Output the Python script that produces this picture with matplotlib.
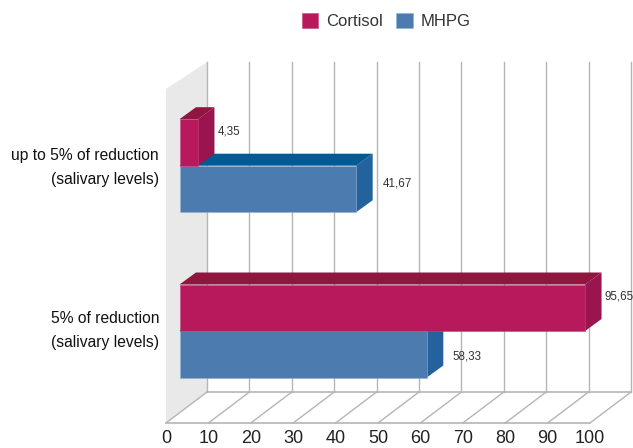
import matplotlib
matplotlib.use("Agg")
import matplotlib.pyplot as plt
from matplotlib.patches import Polygon, Patch

plt.rcParams['font.family'] = ['Liberation Sans', 'DejaVu Sans']

categories = ["5% of reduction\n(salivary levels)", "up to 5% of reduction\n(salivary levels)"]
cortisol = [95.65, 4.35]
mhpg = [58.33, 41.67]
cortisol_labels = ["95,65", "4,35"]
mhpg_labels = ["58,33", "41,67"]
ticks = list(range(0, 101, 10))

W, H = 633, 448
fig = plt.figure(figsize=(W / 100, H / 100), dpi=100)
L, B = 166, 423
ax = fig.add_axes([L / W, (H - B) / H, (W - L) / W, B / H])

PXX, PXY = 4.24, 165.3           # pixels per data unit
X0PX, Y0PX = 179.5, 331          # where value 0 / category 0 sit
ax.set_xlim((L - X0PX) / PXX, (W - X0PX) / PXX)
ax.set_ylim((Y0PX - B) / PXY, Y0PX / PXY)
for s in ax.spines.values():
    s.set_visible(False)
ax.patch.set_visible(False)

front = (L - X0PX) / PXX         # x shift of the chart's front plane
back = (207 - X0PX) / PXX        # x shift of the back wall
y_front, y_back = (Y0PX - 423) / PXY, (Y0PX - 392) / PXY
y_wall_f, y_wall_b = (Y0PX - 89) / PXY, (Y0PX - 62) / PXY
GRID = '#b5b5b5'

ax.add_patch(Polygon([(front, y_front), (back, y_back), (back, y_wall_b), (front, y_wall_f)],
                     closed=True, fc='#e9e9e9', ec='none', zorder=1))
for t in ticks:
    ax.plot([t + back, t + back], [y_back, y_wall_b], color=GRID, lw=1, zorder=2, clip_on=False)
    ax.plot([t + front, t + back], [y_front, y_back], color=GRID, lw=1, zorder=2, clip_on=False)
ax.plot([front, 100 + front], [y_front, y_front], color=GRID, lw=1.2, zorder=2, clip_on=False)
ax.plot([back, 100 + back], [y_back, y_back], color=GRID, lw=1.2, zorder=2, clip_on=False)

BH = 46.5 / PXY
DX, DY = 16.5 / PXX, 12 / PXY


def bar3d(y0, y1, v, front_c, side_c, top_c, edge, z):
    ax.barh((y0 + y1) / 2, v, height=abs(y1 - y0), color=front_c, edgecolor=edge, linewidth=0.4, zorder=z + 0.2)
    hi, lo = max(y0, y1), min(y0, y1)
    ax.add_patch(Polygon([(v, lo), (v + DX, lo + DY), (v + DX, hi + DY), (v, hi)],
                         closed=True, fc=side_c, ec='none', zorder=z))
    ax.add_patch(Polygon([(0, hi), (DX, hi + DY), (v + DX, hi + DY), (v, hi)],
                         closed=True, fc=top_c, ec='none', zorder=z))


for i in range(2):
    bar3d(i - BH, i, mhpg[i], '#4c7bb0', '#23629c', '#005a94', '#8fb0d4', 3)
    bar3d(i, i + BH, cortisol[i], '#b7195c', '#9a144f', '#8f163f', '#c4467c', 4)

cort_off = [(19, 11), (20, 11)]
mhpg_off = [(26, -2), (27, 5)]
for i in range(2):
    ax.annotate(cortisol_labels[i], (cortisol[i], i + BH / 2), xytext=(cort_off[i][0] * .72, cort_off[i][1] * .72),
                textcoords='offset points', fontsize=8.4, color='#333333', va='center', ha='left',
                zorder=6, annotation_clip=False)
    ax.annotate(mhpg_labels[i], (mhpg[i], i - BH / 2), xytext=(mhpg_off[i][0] * .72, mhpg_off[i][1] * .72),
                textcoords='offset points', fontsize=8.4, color='#333333', va='center', ha='left',
                zorder=6, annotation_clip=False)

ax.set_xticks([t + front for t in ticks], [str(t) for t in ticks], fontsize=13, color='#222222')
ax.set_yticks([0.042, 1.027], categories, fontsize=11.25, color='#111111', ma='right', linespacing=1.8)
ax.tick_params(axis='both', length=0)
ax.tick_params(axis='x', pad=5)
ax.tick_params(axis='y', pad=5)

fig.legend(handles=[Patch(fc='#b7195c', ec='#c4467c', lw=0.4, label='Cortisol'),
                    Patch(fc='#4c7bb0', ec='#8fb0d4', lw=0.4, label='MHPG')],
           ncols=2, frameon=False, fontsize=12, labelcolor='#333333',
           handlelength=1.0, handleheight=1.0, handletextpad=0.45, columnspacing=0.8,
           loc='center', bbox_to_anchor=(386 / W, 1 - 21 / H), borderpad=0, borderaxespad=0)

fig.savefig('out.png', dpi=100)
